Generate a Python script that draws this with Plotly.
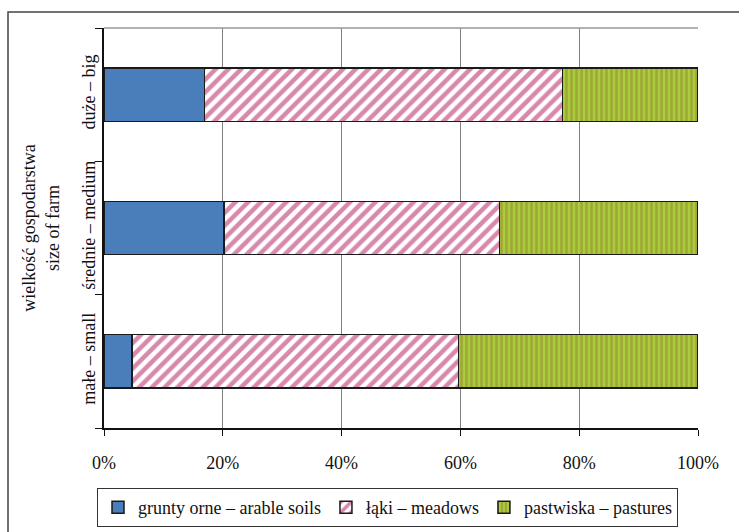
import plotly.graph_objects as go

# Farm size groups (bottom to top) and land-use shares in percent
farm_sizes = ["małe – small", "średnie – medium", "duże – big"]
arable_soils = [4.7, 20.2, 16.9]
meadows = [55.0, 46.4, 60.3]
pastures = [40.3, 33.4, 22.8]

series_names = ["grunty orne – arable soils", "łąki – meadows", "pastwiska – pastures"]

FONT = "Liberation Serif"
W, H = 739, 532
L, R, T, B = 104, 41, 28, 104
pw, ph = W - L - R, H - T - B


def px_x(px):
    return (px - L) / pw


def px_y(py):
    return (H - B - py) / ph


outline = dict(color="#1a1a1a", width=1.5)

fig = go.Figure()
fig.add_trace(go.Bar(
    y=farm_sizes, x=arable_soils, orientation="h", name=series_names[0],
    marker=dict(color="#4A7EBB", line=outline),
))
fig.add_trace(go.Bar(
    y=farm_sizes, x=meadows, orientation="h", name=series_names[1],
    marker=dict(color="white", line=outline,
                pattern=dict(shape="/", fgcolor="#B0125A", bgcolor="white",
                             size=9, solidity=0.5)),
))
fig.add_trace(go.Bar(
    y=farm_sizes, x=pastures, orientation="h", name=series_names[2],
    marker=dict(color="#A6C83A", line=outline,
                pattern=dict(shape="|", fgcolor="#988034", bgcolor="#A8CC3A",
                             size=5, solidity=0.5)),
))

fig.update_layout(
    barmode="stack",
    bargap=0.6,
    width=W, height=H,
    margin=dict(l=L, r=R, t=T, b=B, pad=0, autoexpand=False),
    paper_bgcolor="white",
    plot_bgcolor="white",
    font=dict(family=FONT, size=18, color="#111111"),
    showlegend=True,
    legend=dict(
        orientation="h",
        x=px_x(97), y=px_y(488), xanchor="left", yanchor="top",
        bordercolor="#333333", borderwidth=1,
        font=dict(family=FONT, size=18, color="#111111"),
        traceorder="normal",
        itemwidth=30,
    ),
    xaxis=dict(
        range=[0, 100], dtick=20, ticksuffix="%",
        showgrid=True, gridcolor="#808080", gridwidth=1,
        showline=True, linecolor="#111111", linewidth=1.5,
        ticks="outside", ticklen=6, tickcolor="#111111",
        ticklabelstandoff=12,
        zeroline=False, fixedrange=True,
    ),
    yaxis=dict(
        categoryorder="array", categoryarray=farm_sizes,
        tickangle=-90, tickson="boundaries",
        showgrid=False, showline=True, linecolor="#111111", linewidth=1.5,
        ticks="outside", ticklen=7, tickcolor="#111111",
        title=dict(text="wielkość gospodarstwa<br>size of farm",
                   font=dict(family=FONT, size=18), standoff=15),
        fixedrange=True,
    ),
    shapes=[
        # top edge of the plotting area
        dict(type="line", xref="paper", yref="paper", x0=0, x1=1, y0=1, y1=1,
             line=dict(color="#999999", width=1.5)),
        # outer frame around the whole figure
        dict(type="rect", xref="paper", yref="paper",
             x0=px_x(8), x1=px_x(760), y0=px_y(560), y1=px_y(12),
             line=dict(color="#444444", width=1.5)),
    ],
)

fig.write_html("out.html")
